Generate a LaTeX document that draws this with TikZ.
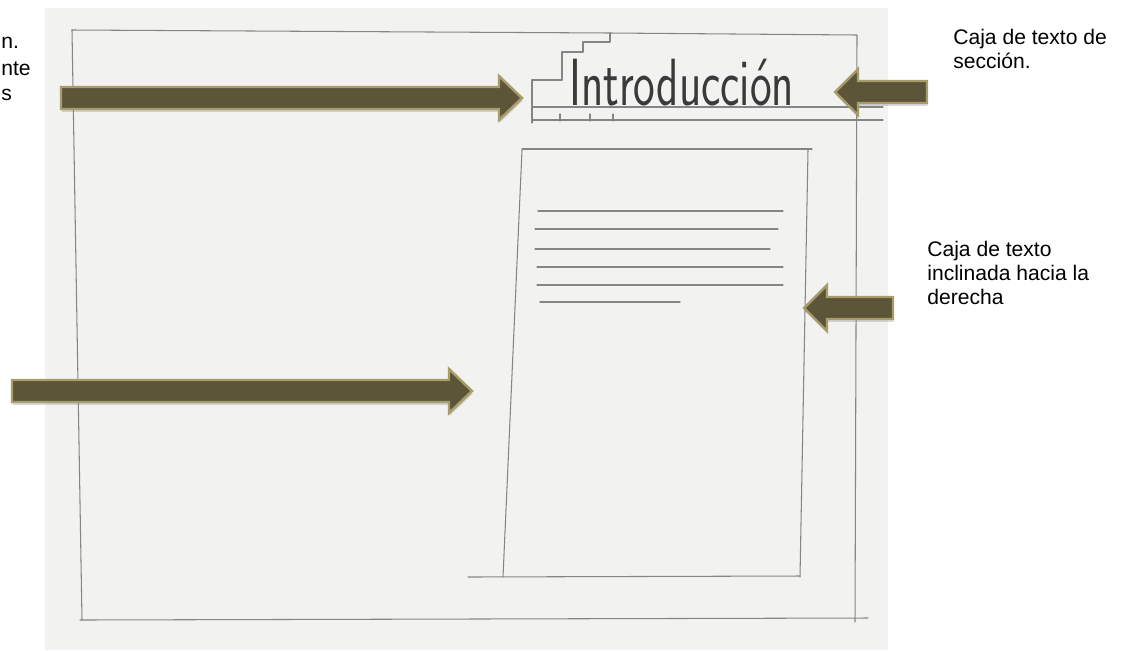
\documentclass[tikz,border=0pt]{standalone}
\usepackage{fontspec}
\setmainfont{Liberation Sans}
\usetikzlibrary{shadows}
\definecolor{paper}{HTML}{F2F2F0}
\definecolor{pencil}{HTML}{858585}
\definecolor{handink}{HTML}{3A3A3A}
\definecolor{arrowfill}{HTML}{5D5538}
\definecolor{arrowrim}{HTML}{A89C6C}
\tikzset{
  sketch/.style={pencil, line width=0.6pt, line cap=round, line join=round},
  blockarrow/.style={fill=arrowfill, draw=arrowrim, line width=1.4pt,
    drop shadow={shadow xshift=0.4pt, shadow yshift=-1.6pt, opacity=0.3}},
  note/.style={align=left, font=\fontsize{12}{13.5}\selectfont, inner sep=0pt}
}
% #1 = y of the middle, #2 = tail x, #3 = tip x
\newcommand{\rightblock}[3]{%
  \draw[blockarrow] (#2,{#1-11}) -- ({#3-23},{#1-11}) -- ({#3-23},{#1-22})
    -- (#3,#1) -- ({#3-23},{#1+22}) -- ({#3-23},{#1+11}) -- (#2,{#1+11}) -- cycle;}
\newcommand{\leftblock}[3]{%
  \draw[blockarrow] (#2,{#1-11}) -- ({#3+23},{#1-11}) -- ({#3+23},{#1-23})
    -- (#3,#1) -- ({#3+23},{#1+23}) -- ({#3+23},{#1+11}) -- (#2,{#1+11}) -- cycle;}

\begin{document}
\begin{tikzpicture}[x=0.02cm, y=-0.02cm]

  \useasboundingbox (0,0) rectangle (1125,650);
  \fill[paper] (45,8) rectangle (888,650);

  % page frame
  \draw[sketch] (72,30) -- (610,33) -- (857,35) -- (855,622);
  \draw[sketch] (72,30) -- (82,620);
  \draw[sketch] (80,620) -- (868,618);

  % section header
  \draw[sketch] (610,33) -- (610,42) -- (583,42) -- (583,52) -- (562,52)
    -- (562,80) -- (532,80) -- (532,123);
  \draw[sketch] (532,107) -- (883,107);
  \draw[sketch] (532,120) -- (883,120);
  \foreach \tx in {560,590,613}
    \draw[sketch] (\tx,114) -- (\tx,121);
  \node[anchor=base west, inner sep=0pt, text=handink,
    font=\sffamily\fontsize{38}{40}\selectfont] (titulo) at (569,105)
    {\scalebox{0.69}[1]{Introducción}};

  % tilted text box
  \draw[sketch] (522,149) -- (812,149);
  \draw[sketch] (808,150) -- (800,577);
  \draw[sketch] (522,150) -- (503,577);
  \draw[sketch] (468,577) -- (800,576);
  \draw[sketch] (538,211) -- (783,211);
  \draw[sketch] (535,229) -- (778,229);
  \draw[sketch] (535,249) -- (770,249);
  \draw[sketch] (537,267) -- (783,267);
  \draw[sketch] (537,285) -- (783,285);
  \draw[sketch] (540,302) -- (680,302);

  % arrows
  \rightblock{98}{61}{522}
  \rightblock{391}{12}{472}
  \leftblock{92}{927}{835}
  \leftblock{308}{893}{804}

  % notes
  \node[note, anchor=base west] (frag1) at (1,48) {n.};
  \node[note, anchor=base west] (frag2) at (1,75) {nte};
  \node[note, anchor=base west] (frag3) at (1,100) {s};
  \node[note, anchor=base west] (seccion) at (953,68)
    {Caja de texto de\\sección.};
  \node[note, anchor=base west] (inclinada) at (927,304)
    {Caja de texto\\inclinada hacia la\\derecha};

\end{tikzpicture}
\end{document}
